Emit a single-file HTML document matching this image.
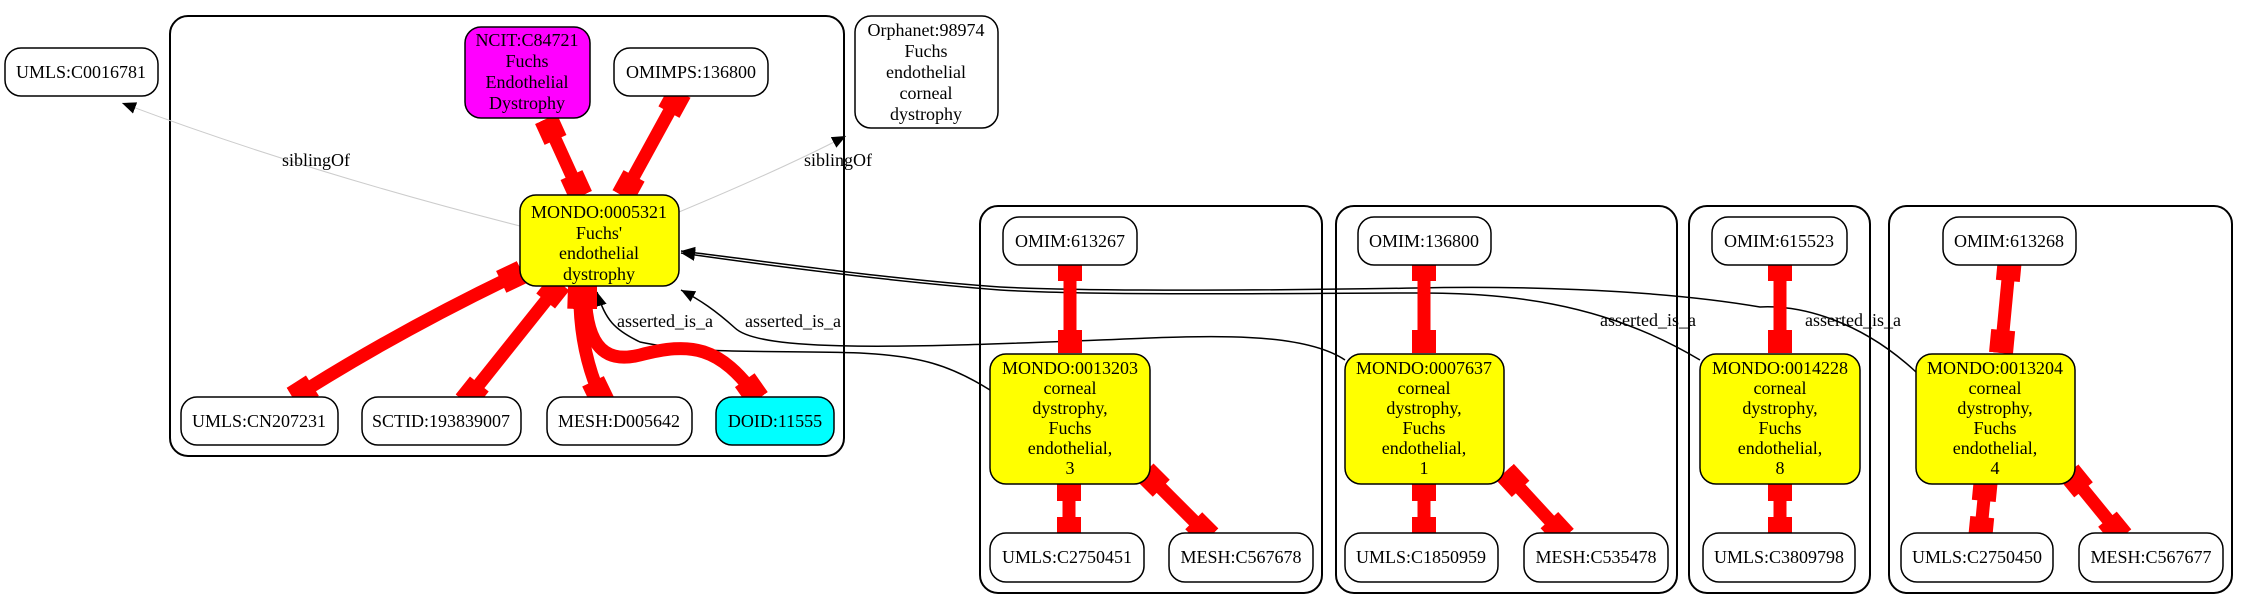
<!DOCTYPE html>
<html><head><meta charset="utf-8"><style>
html,body{margin:0;padding:0;background:#fff;}
svg{display:block;}
text{font-family:"Liberation Serif",serif;font-size:18px;text-anchor:middle;fill:#000;}
</style></head><body>
<svg width="2249" height="609" viewBox="0 0 2249 609" xmlns="http://www.w3.org/2000/svg">
<defs>
<marker id="bx" markerUnits="userSpaceOnUse" viewBox="-24 -13 24 26" refX="0" refY="0" markerWidth="24" markerHeight="26" orient="auto-start-reverse">
<rect x="-23" y="-12" width="23" height="24" fill="#f00"/>
</marker>
<marker id="ar" markerUnits="userSpaceOnUse" viewBox="-14 -7 14 14" refX="0" refY="0" markerWidth="14" markerHeight="14" orient="auto">
<path d="M-14,-6 L0,0 L-14,6 Z" fill="#000"/>
</marker>
</defs>
<g fill="none" stroke="#000" stroke-width="2">
<rect x="170" y="16" width="674" height="440" rx="18"/>
<rect x="980" y="206" width="342" height="387" rx="18"/>
<rect x="1336" y="206" width="341" height="387" rx="18"/>
<rect x="1689" y="206" width="181" height="387" rx="18"/>
<rect x="1889" y="206" width="343" height="387" rx="18"/>
</g>
<!-- sibling edges -->
<g fill="none" stroke="#ccc" stroke-width="1">
<path d="M520,226 Q300,170 122,103" marker-end="url(#ar)"/>
<path d="M679,212 Q780,170 846,136" marker-end="url(#ar)"/>
</g>
<!-- asserted edges -->
<g fill="none" stroke="#000" stroke-width="1.5">
<path d="M990,390 C950,365 920,356 860,353 C780,350 700,355 640,342 C615,330 605,320 597,292" marker-end="url(#ar)"/>
<path d="M1345,360 C1300,330 1200,336 1100,340 C900,348 760,352 735,328 C715,310 700,300 681,290" marker-end="url(#ar)"/>
<path d="M1700,360 C1600,300 1500,293 1416,293 C1300,293 1100,296 1000,290 C900,282 800,270 681,253" marker-end="url(#ar)"/>
<path d="M1916,372 C1860,320 1800,305 1760,307 C1650,288 1500,286 1416,288 C1300,290 1100,292 1000,287 C900,280 800,266 681,251" marker-end="url(#ar)"/>
</g>
<!-- red edges -->
<g fill="none" stroke="#f00" stroke-width="13" marker-start="url(#bx)" marker-end="url(#bx)">
<path d="M546,119 L581,196"/>
<path d="M680,92 L623,196"/>
<path d="M522,272 Q400,330 293,398"/>
<path d="M560,283 L465,402"/>
<path d="M580,286 Q578,350 603,402"/>
<path d="M585,286 C585,340 600,365 640,355 C690,342 720,345 758,399"/>
<path d="M1070,258 L1070,353"/>
<path d="M1069,478 L1069,540"/>
<path d="M1145,472 L1210,537"/>
<path d="M1424,258 L1424,353"/>
<path d="M1424,478 L1424,540"/>
<path d="M1505,472 L1565,537"/>
<path d="M1780,258 L1780,353"/>
<path d="M1780,478 L1780,540"/>
<path d="M2010,258 L2001,353"/>
<path d="M1986,478 L1980,540"/>
<path d="M2069,472 L2122,537"/>
</g>
<!-- nodes -->
<g stroke="#000" stroke-width="1.5">
<rect x="5" y="48" width="153" height="48" rx="16" fill="#fff"/>
<rect x="465" y="27" width="125" height="91" rx="16" fill="#f0f"/>
<rect x="614" y="48" width="154" height="48" rx="16" fill="#fff"/>
<rect x="855" y="16" width="143" height="112" rx="16" fill="#fff"/>
<rect x="520" y="195" width="159" height="91" rx="16" fill="#ff0"/>
<rect x="181" y="397" width="157" height="48" rx="16" fill="#fff"/>
<rect x="362" y="397" width="159" height="48" rx="16" fill="#fff"/>
<rect x="547" y="397" width="145" height="48" rx="16" fill="#fff"/>
<rect x="716" y="397" width="118" height="48" rx="16" fill="#0ff"/>

<rect x="1003" y="217" width="134" height="48" rx="16" fill="#fff"/>
<rect x="990" y="354" width="160" height="130" rx="16" fill="#ff0"/>
<rect x="990" y="533" width="154" height="49" rx="16" fill="#fff"/>
<rect x="1169" y="533" width="144" height="49" rx="16" fill="#fff"/>

<rect x="1358" y="217" width="133" height="48" rx="16" fill="#fff"/>
<rect x="1345" y="354" width="159" height="130" rx="16" fill="#ff0"/>
<rect x="1345" y="533" width="153" height="49" rx="16" fill="#fff"/>
<rect x="1524" y="533" width="144" height="49" rx="16" fill="#fff"/>

<rect x="1712" y="217" width="135" height="48" rx="16" fill="#fff"/>
<rect x="1700" y="354" width="160" height="130" rx="16" fill="#ff0"/>
<rect x="1703" y="533" width="152" height="49" rx="16" fill="#fff"/>

<rect x="1943" y="217" width="133" height="48" rx="16" fill="#fff"/>
<rect x="1916" y="354" width="159" height="130" rx="16" fill="#ff0"/>
<rect x="1901" y="533" width="152" height="49" rx="16" fill="#fff"/>
<rect x="2079" y="533" width="144" height="49" rx="16" fill="#fff"/>
</g>
<g>
<text x="81" y="78">UMLS:C0016781</text>
<text x="527" y="46">NCIT:C84721</text><text x="527" y="67">Fuchs</text><text x="527" y="88">Endothelial</text><text x="527" y="109">Dystrophy</text>
<text x="691" y="78">OMIMPS:136800</text>
<text x="926" y="36">Orphanet:98974</text><text x="926" y="57">Fuchs</text><text x="926" y="78">endothelial</text><text x="926" y="99">corneal</text><text x="926" y="120">dystrophy</text>
<text x="599" y="218">MONDO:0005321</text><text x="599" y="239">Fuchs'</text><text x="599" y="259">endothelial</text><text x="599" y="280">dystrophy</text>
<text x="259" y="427">UMLS:CN207231</text>
<text x="441" y="427">SCTID:193839007</text>
<text x="619" y="427">MESH:D005642</text>
<text x="775" y="427">DOID:11555</text>
<text x="316" y="166">siblingOf</text>
<text x="838" y="166">siblingOf</text>
<text x="665" y="327">asserted_is_a</text>
<text x="793" y="327">asserted_is_a</text>
<text x="1648" y="326">asserted_is_a</text>
<text x="1853" y="326">asserted_is_a</text>

<text x="1070" y="247">OMIM:613267</text>
<text x="1070" y="374">MONDO:0013203</text><text x="1070" y="394">corneal</text><text x="1070" y="414">dystrophy,</text><text x="1070" y="434">Fuchs</text><text x="1070" y="454">endothelial,</text><text x="1070" y="474">3</text>
<text x="1067" y="563">UMLS:C2750451</text>
<text x="1241" y="563">MESH:C567678</text>

<text x="1424" y="247">OMIM:136800</text>
<text x="1424" y="374">MONDO:0007637</text><text x="1424" y="394">corneal</text><text x="1424" y="414">dystrophy,</text><text x="1424" y="434">Fuchs</text><text x="1424" y="454">endothelial,</text><text x="1424" y="474">1</text>
<text x="1421" y="563">UMLS:C1850959</text>
<text x="1596" y="563">MESH:C535478</text>

<text x="1779" y="247">OMIM:615523</text>
<text x="1780" y="374">MONDO:0014228</text><text x="1780" y="394">corneal</text><text x="1780" y="414">dystrophy,</text><text x="1780" y="434">Fuchs</text><text x="1780" y="454">endothelial,</text><text x="1780" y="474">8</text>
<text x="1779" y="563">UMLS:C3809798</text>

<text x="2009" y="247">OMIM:613268</text>
<text x="1995" y="374">MONDO:0013204</text><text x="1995" y="394">corneal</text><text x="1995" y="414">dystrophy,</text><text x="1995" y="434">Fuchs</text><text x="1995" y="454">endothelial,</text><text x="1995" y="474">4</text>
<text x="1977" y="563">UMLS:C2750450</text>
<text x="2151" y="563">MESH:C567677</text>
</g>
</svg>
</body></html>
